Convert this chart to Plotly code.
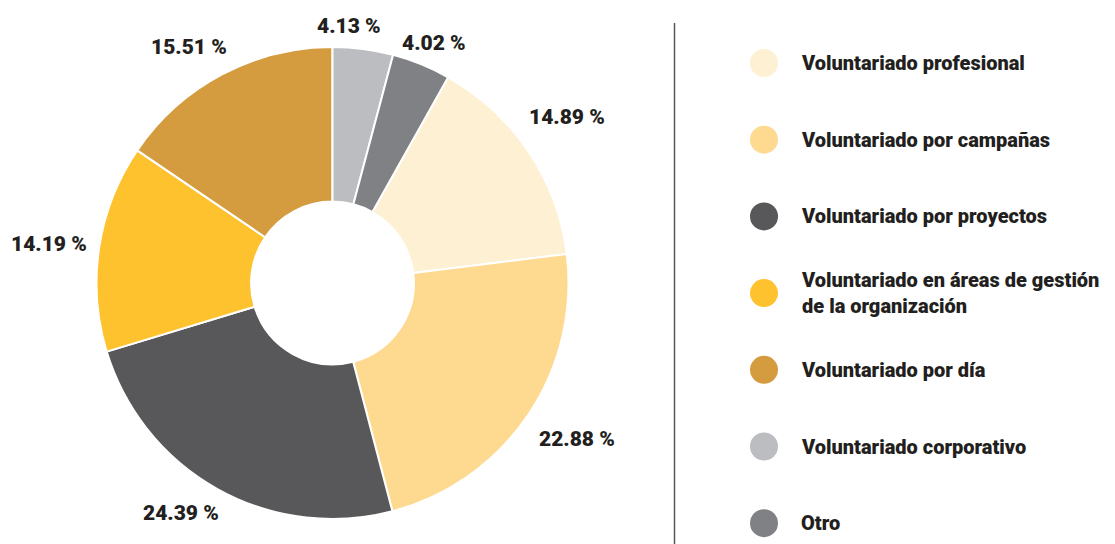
import math
import plotly.graph_objects as go

# data (legend order)
labels = [
    "Voluntariado profesional",
    "Voluntariado por campañas",
    "Voluntariado por proyectos",
    "Voluntariado en áreas de gestión<br>de la organización",
    "Voluntariado por día",
    "Voluntariado corporativo",
    "Otro",
]
values = [14.89, 22.88, 24.39, 14.19, 15.51, 4.13, 4.02]
colors = ["#FEF0D2", "#FEDA91", "#58585A", "#FEC22F", "#D49C3F", "#BCBDC0", "#808184"]
pct_text = ["14.89 %", "22.88 %", "24.39 %", "14.19 %", "15.51 %", "4.13 %", "4.02 %"]

W, H = 1115, 544
OFF = 8  # page body margin: the figure sits 8px in from the window corner
FONT = "Roboto, Lato, sans-serif"
TXT = "#231F20"
FS = 21

# small hand nudges (px) so the outside labels sit where the original put them
label_nudge = [(-2, -7), (9, -4), (-17, -11), (0, 4), (-14, 8), (-18, 5), (0, 11)]


def paper(px, py):
    # window pixels -> paper coordinates
    return (px - OFF) / W, 1 - (py - OFF) / H


# pie geometry in window pixels
cx, cy, R = 332.5, 283.0, 236.0
# the last two slices sit just right of 12 o'clock, so the first one starts after them
total = sum(values)
rotation = (values[5] + values[6]) / total * 360

x0, y1 = paper(cx - R, cy - R)
x1, y0 = paper(cx + R, cy + R)

fig = go.Figure()

fig.add_trace(go.Pie(
    labels=labels,
    values=values,
    sort=False,
    direction="clockwise",
    rotation=rotation,
    hole=0.345,
    marker=dict(colors=colors, line=dict(color="white", width=2)),
    textinfo="none",
    hoverinfo="label+percent",
    showlegend=False,
    domain=dict(x=[x0, x1], y=[y0, y1]),
))

annotations = []

# percentage labels around the ring: centred on each slice's mid angle,
# pushed out so the text box clears the rim by a small gap
cum = 0.0
for v, t, (nx, ny) in zip(values, pct_text, label_nudge):
    mid = rotation + (cum + v / 2) / total * 360
    cum += v
    a = math.radians(mid)
    s, c = math.sin(a), math.cos(a)
    hw = len(t) * 0.25 * FS * 0.98
    hh = 11
    ra = R + 13 + hw * abs(s) + hh * abs(c)
    ax, ay = paper(cx + ra * s + nx, cy - ra * c + ny)
    annotations.append(dict(
        x=ax, y=ay, xref="paper", yref="paper",
        text=t, showarrow=False, xanchor="center", yanchor="middle",
        font=dict(family=FONT, size=FS, color=TXT, weight=900),
    ))

# custom legend with round markers (axis units = window pixels)
leg_y = [63 + 76.7 * i for i in range(len(labels))]
fig.add_trace(go.Scatter(
    x=[764] * len(labels), y=leg_y, mode="markers",
    marker=dict(size=28, color=colors, line=dict(width=0)),
    hoverinfo="skip", showlegend=False,
))
for lab, y in zip(labels, leg_y):
    annotations.append(dict(
        x=799, y=y, xref="x", yref="y", text=lab, showarrow=False,
        xanchor="left", yanchor="middle", align="left",
        font=dict(family=FONT, size=20, color=TXT, weight=900),
    ))

lx, ly = paper(674.5, 23)
fig.update_layout(
    width=W, height=H,
    margin=dict(l=0, r=0, t=0, b=0),
    paper_bgcolor="white", plot_bgcolor="white",
    xaxis=dict(range=[OFF, W + OFF], domain=[0, 1], visible=False, fixedrange=True),
    yaxis=dict(range=[H + OFF, OFF], domain=[0, 1], visible=False, fixedrange=True),
    annotations=annotations,
    shapes=[dict(type="line", xref="paper", yref="paper",
                 x0=lx, x1=lx, y0=ly, y1=0,
                 line=dict(color="#58585A", width=1.5))],
)

fig.write_html("out.html")
